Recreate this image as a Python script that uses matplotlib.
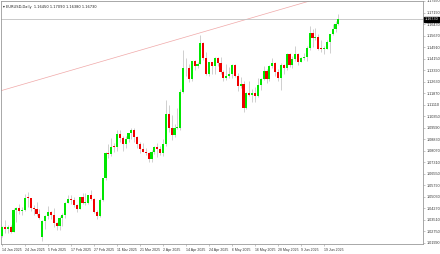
import matplotlib
matplotlib.use("Agg")
import matplotlib.pyplot as plt
import numpy as np

# EURUSD daily bars, 14 Jan 2025 .. 26 Jun 2025
opens = [1.0245, 1.0306, 1.0291, 1.0302, 1.0272, 1.0417, 1.0431, 1.0408, 1.0413, 1.0495,
         1.0494, 1.0431, 1.0422, 1.0389, 1.0235, 1.0345, 1.0378, 1.0404, 1.0380, 1.0330,
         1.0308, 1.0362, 1.0380, 1.0465, 1.0490, 1.0483, 1.0449, 1.0425, 1.0503, 1.0460,
         1.0465, 1.0513, 1.0486, 1.0400, 1.0376, 1.0485, 1.0625, 1.0790, 1.0784, 1.0834,
         1.0833, 1.0918, 1.0888, 1.0851, 1.0882, 1.0922, 1.0944, 1.0898, 1.0852, 1.0817,
         1.0802, 1.0790, 1.0753, 1.0801, 1.0830, 1.0816, 1.0791, 1.0851, 1.1050, 1.0960,
         1.0912, 1.0957, 1.0955, 1.1195, 1.1356, 1.1350, 1.1282, 1.1398, 1.1364, 1.1382,
         1.1515, 1.1420, 1.1315, 1.1390, 1.1364, 1.1420, 1.1389, 1.1327, 1.1290, 1.1300,
         1.1314, 1.1370, 1.1300, 1.1233, 1.1250, 1.1090, 1.1186, 1.1175, 1.1185, 1.1165,
         1.1240, 1.1280, 1.1330, 1.1280, 1.1365, 1.1385, 1.1325, 1.1290, 1.1370, 1.1350,
         1.1445, 1.1370, 1.1410, 1.1445, 1.1395, 1.1420, 1.1425, 1.1487, 1.1584, 1.1550,
         1.1560, 1.1480, 1.1479, 1.1480, 1.1523, 1.1580, 1.1610, 1.1645]
highs = [1.0310, 1.0353, 1.0320, 1.0315, 1.0430, 1.0433, 1.0453, 1.0433, 1.0522, 1.0533,
         1.0497, 1.0451, 1.0467, 1.0420, 1.0351, 1.0380, 1.0442, 1.0410, 1.0431, 1.0335,
         1.0377, 1.0394, 1.0467, 1.0514, 1.0514, 1.0500, 1.0459, 1.0505, 1.0528, 1.0528,
         1.0515, 1.0545, 1.0496, 1.0416, 1.0496, 1.0630, 1.0797, 1.0854, 1.0888, 1.0860,
         1.0947, 1.0946, 1.0905, 1.0906, 1.0924, 1.0955, 1.0954, 1.0905, 1.0862, 1.0859,
         1.0824, 1.0802, 1.0812, 1.0839, 1.0856, 1.0839, 1.0882, 1.1144, 1.1107, 1.1040,
         1.0985, 1.1090, 1.1214, 1.1473, 1.1420, 1.1377, 1.1400, 1.1405, 1.1390, 1.1573,
         1.1523, 1.1456, 1.1393, 1.1395, 1.1425, 1.1424, 1.1424, 1.1342, 1.1381, 1.1361,
         1.1380, 1.1380, 1.1322, 1.1293, 1.1266, 1.1195, 1.1265, 1.1213, 1.1229, 1.1287,
         1.1287, 1.1363, 1.1346, 1.1375, 1.1420, 1.1390, 1.1345, 1.1385, 1.1380, 1.1450,
         1.1450, 1.1435, 1.1495, 1.1455, 1.1425, 1.1455, 1.1495, 1.1631, 1.1613, 1.1615,
         1.1580, 1.1541, 1.1497, 1.1541, 1.1580, 1.1640, 1.1660, 1.1709]
lows = [1.0235, 1.0267, 1.0265, 1.0266, 1.0269, 1.0340, 1.0392, 1.0380, 1.0410, 1.0433,
        1.0409, 1.0385, 1.0375, 1.0358, 1.0210, 1.0293, 1.0356, 1.0358, 1.0301, 1.0285,
        1.0285, 1.0312, 1.0365, 1.0460, 1.0454, 1.0436, 1.0400, 1.0420, 1.0457, 1.0450,
        1.0455, 1.0480, 1.0395, 1.0360, 1.0370, 1.0473, 1.0611, 1.0758, 1.0771, 1.0802,
        1.0807, 1.0867, 1.0807, 1.0822, 1.0862, 1.0887, 1.0864, 1.0822, 1.0795, 1.0797,
        1.0778, 1.0733, 1.0733, 1.0785, 1.0768, 1.0778, 1.0773, 1.0836, 1.0930, 1.0880,
        1.0899, 1.0950, 1.0944, 1.1190, 1.1300, 1.1263, 1.1265, 1.1338, 1.1350, 1.1380,
        1.1405, 1.1306, 1.1300, 1.1315, 1.1315, 1.1368, 1.1313, 1.1265, 1.1272, 1.1290,
        1.1290, 1.1293, 1.1200, 1.1220, 1.1065, 1.1082, 1.1170, 1.1131, 1.1130, 1.1160,
        1.1210, 1.1275, 1.1255, 1.1270, 1.1355, 1.1300, 1.1270, 1.1210, 1.1315, 1.1340,
        1.1360, 1.1355, 1.1400, 1.1370, 1.1390, 1.1405, 1.1400, 1.1470, 1.1490, 1.1540,
        1.1474, 1.1457, 1.1446, 1.1480, 1.1452, 1.1570, 1.1588, 1.1638]
closes = [1.0306, 1.0291, 1.0302, 1.0272, 1.0417, 1.0431, 1.0408, 1.0413, 1.0495, 1.0494,
          1.0431, 1.0422, 1.0389, 1.0362, 1.0345, 1.0378, 1.0404, 1.0380, 1.0330, 1.0308,
          1.0362, 1.0380, 1.0465, 1.0490, 1.0483, 1.0449, 1.0425, 1.0503, 1.0460, 1.0465,
          1.0513, 1.0486, 1.0400, 1.0376, 1.0485, 1.0625, 1.0790, 1.0784, 1.0834, 1.0833,
          1.0918, 1.0888, 1.0851, 1.0882, 1.0922, 1.0944, 1.0898, 1.0852, 1.0817, 1.0802,
          1.0790, 1.0753, 1.0801, 1.0830, 1.0816, 1.0791, 1.0851, 1.1050, 1.0960, 1.0912,
          1.0957, 1.0965, 1.1195, 1.1356, 1.1350, 1.1282, 1.1398, 1.1364, 1.1382, 1.1515,
          1.1420, 1.1315, 1.1390, 1.1364, 1.1420, 1.1389, 1.1327, 1.1290, 1.1300, 1.1314,
          1.1370, 1.1300, 1.1233, 1.1250, 1.1090, 1.1186, 1.1175, 1.1185, 1.1165, 1.1240,
          1.1280, 1.1330, 1.1280, 1.1365, 1.1385, 1.1325, 1.1290, 1.1370, 1.1350, 1.1445,
          1.1370, 1.1410, 1.1445, 1.1395, 1.1420, 1.1425, 1.1487, 1.1584, 1.1550, 1.1560,
          1.1480, 1.1479, 1.1480, 1.1523, 1.1580, 1.1610, 1.1645, 1.1673]

date_labels = ["14 Jan 2025", "24 Jan 2025", "5 Feb 2025", "17 Feb 2025", "27 Feb 2025",
               "11 Mar 2025", "21 Mar 2025", "2 Apr 2025", "14 Apr 2025", "24 Apr 2025",
               "6 May 2025", "16 May 2025", "28 May 2025", "9 Jun 2025", "19 Jun 2025"]
date_label_every = 8

price_top = 1.17950
price_step = 0.00760
n_price_labels = 22

trend_x = [-0.7, 108.2]
trend_y = [1.12013, 1.18016]

symbol = "EURUSD,Daily"

UP = "#00e600"
DOWN = "#f00000"
WICK = "#b4b4b4"

W, H = 440, 254
fig = plt.figure(figsize=(W / 100, H / 100), dpi=100)
ax = fig.add_axes([1 / W, 10 / H, 422 / W, 243 / H])

o = np.array(opens)
h = np.array(highs)
l = np.array(lows)
c = np.array(closes)
x = np.arange(len(o))

px_per_bar = 2.875
ppp = price_step / 11.52  # price per pixel
ax.set_xlim(-1 / px_per_bar, 421 / px_per_bar)
ax.set_ylim(price_top - 243 * ppp, price_top)

up = c >= o
ax.vlines(x, l, h, color=WICK, linewidth=0.45, zorder=2)
body_lo = np.minimum(o, c)
body_h = np.maximum(np.abs(c - o), ppp * 0.9)
ax.bar(x[up], body_h[up], bottom=body_lo[up], width=0.72, color=UP, linewidth=0, zorder=3)
ax.bar(x[~up], body_h[~up], bottom=body_lo[~up], width=0.72, color=DOWN, linewidth=0, zorder=3)

# trendline and bid line
ax.axline((trend_x[0], trend_y[0]), (trend_x[1], trend_y[1]), color="#f0a8a8", linewidth=0.5, zorder=1)
ax.axhline(c[-1], color="#c0c0c0", linewidth=0.6, zorder=1)

for s in ax.spines.values():
    s.set_color("#9a9a9a")
    s.set_linewidth(0.6)

font = "Liberation Sans"
yt = [price_top - j * price_step for j in range(n_price_labels)]
ax.yaxis.tick_right()
ax.set_yticks(yt)
ax.set_yticklabels([f"{v:.5f}" for v in yt], fontsize=2.7, family=font, color="#333333")
ax.tick_params(axis="y", length=1.5, width=0.4, color="#9a9a9a", pad=1.2)

xt = list(range(0, len(date_labels) * date_label_every, date_label_every))
ax.set_xticks(xt)
ax.set_xticklabels(date_labels, fontsize=2.5, family=font, color="#333333", ha="left")
ax.tick_params(axis="x", length=1.5, width=0.4, color="#9a9a9a", pad=1.5)

# current price box
ax.text(1.003, c[-1], f"{c[-1]:.5f}", transform=ax.get_yaxis_transform(), fontsize=2.7,
        family=font, color="white", va="center", ha="left",
        bbox=dict(boxstyle="square,pad=0.15", fc="black", ec="black"))

header = f"\u25be {symbol}  {o[-1]:.5f} {h[-1]:.5f} {l[-1]:.5f} {c[-1]:.5f}"
ax.text(0.004, 0.985, header, transform=ax.transAxes, fontsize=2.6, family=["DejaVu Sans"],
        color="#222222", va="top", ha="left")

fig.savefig("out.png", dpi=100, facecolor="white")
